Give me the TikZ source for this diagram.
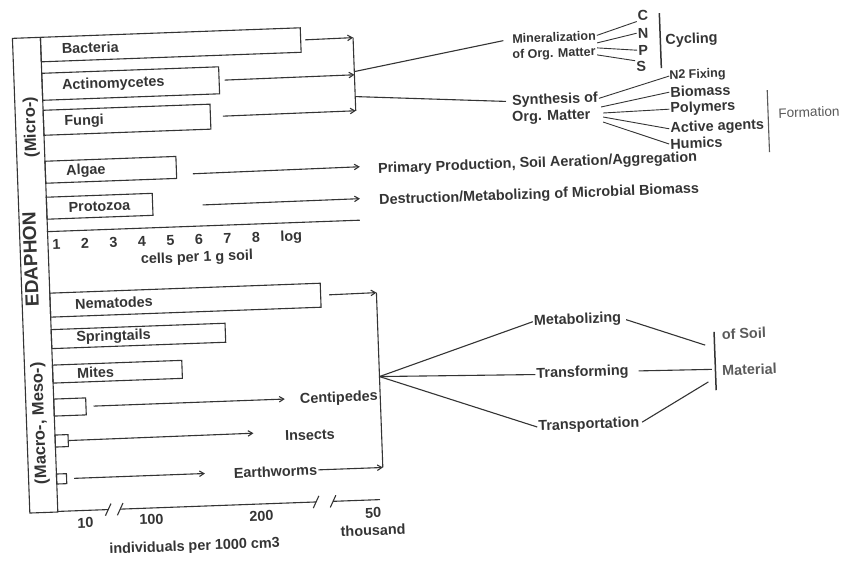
\documentclass[tikz,border=0pt]{standalone}
\usepackage{fontspec}
\setmainfont{Liberation Sans}
\usetikzlibrary{arrows.meta}
\definecolor{ink}{HTML}{343434}
\definecolor{inklight}{HTML}{5A5A5A}
\tikzset{
  every node/.style={text=ink},
  txt/.style={font=\bfseries\fontsize{14.4}{16}\selectfont, inner sep=1pt},
  small/.style={font=\bfseries\fontsize{12.5}{15}\selectfont, inner sep=0pt},
  bar/.style={draw=ink, line width=1.1pt, anchor=north west, inner xsep=0pt,
    inner ysep=0pt, align=left, font=\bfseries\fontsize{14.4}{16}\selectfont},
  box/.style={draw=ink, line width=1.1pt, anchor=north west, inner sep=0pt},
  conn/.style={draw=ink, line width=1.1pt},
  thick bar/.style={draw=ink, line width=1.5pt},
  arr/.style={conn, -{Straight Barb[length=4.5pt,width=5.5pt]}},
  side/.style={font=\bfseries\fontsize{16.5}{18}\selectfont, rotate=90, inner sep=0pt},
}
\begin{document}
\begin{tikzpicture}[x=1pt,y=-1pt]
\fill[white] (0,0) rectangle (843,561);
\useasboundingbox (0,0) rectangle (843,561);
\begin{scope}[rotate around={2.1:(421,280)}, transform shape]

% ---- EDAPHON side frame ----
\node[draw=ink, line width=1.1pt, anchor=north west, minimum width=28pt,
  minimum height=475pt, inner sep=0pt] (frame) at (21,23) {};
\node[side, font=\bfseries\fontsize{19}{20}\selectfont] (eda) at (31.5,245) {EDAPHON};
\node[side] (mic) at (37,113) {(Micro-)};
\node[side] (mac) at (35,409.3) {(Macro-, Meso-)};

% ---- micro-organisms (cells per 1 g soil) ----
\node[bar, text width=260pt, minimum height=24.5pt] (bac) at (49,23) {\hspace*{21pt}Bacteria};
\node[bar, text width=177pt, minimum height=27pt] (act) at (49,59) {\hspace*{20pt}Actinomycetes};
\node[bar, text width=167pt, minimum height=25pt] (fun) at (49,96) {\hspace*{21pt}Fungi};
\node[bar, text width=131pt, minimum height=22pt] (alg) at (49,147) {\hspace*{21pt}Algae};
\node[bar, text width=106pt, minimum height=22pt] (pro) at (49,183) {\hspace*{22pt}Protozoa};

\coordinate (ax0) at (49,218);
\coordinate (ax1) at (362,218);
\draw[conn] (ax0) -- (ax1);
\foreach \n [count=\i] in {1,...,8}
  \node[txt, inner sep=0pt] (num\n) at ({58+28.5*(\i-1)},231.5) {\n};
\node[txt, inner sep=0pt] (log) at (293,232.5) {log};
\node[txt, inner sep=0pt] (cells) at (198,250) {cells per 1 g soil};

% arrows into the bracket of the decomposers
\coordinate (b1) at (362,35.3);
\coordinate (b2) at (362,72.5);
\coordinate (b3) at (362,108.5);
\draw[arr, shorten <=4pt] (bac.east) -- (b1);
\draw[arr, shorten <=5pt] (act.east) -- (b2);
\draw[arr, shorten <=12pt] (fun.east) -- (b3);
\draw[conn] (b1) -- (b3);
\coordinate (bo1) at (362,69.3);
\coordinate (bo2) at (362,94.3);

% mineralization branch
\node[small, anchor=west] (min1) at (521,42.3) {Mineralization};
\node[small, anchor=west] (min2) at (520.5,59) {of Org. Matter};
\draw[conn, shorten >=9pt] (bo1) -- (min1.west);
\node[txt] (C) at (652.5,23.3) {C};
\node[txt] (N) at (652,41.3) {N};
\node[txt] (P) at (651.5,58.3) {P};
\node[txt] (S) at (649,75) {S};
\coordinate (mf2) at (605.8,49.5);
\coordinate (mf3) at (605.6,54.5);
\coordinate (mf4) at (605.3,61.5);
\draw[conn, line width=0.9pt, shorten <=1pt] (min1.east) -- (C.south west);
\draw[conn, line width=0.9pt] (mf2) -- (N.west);
\draw[conn, line width=0.9pt] (mf3) -- (P.west);
\draw[conn, line width=0.9pt] (mf4) -- (S.north west);
\coordinate (cy0) at (669,22);
\coordinate (cy1) at (669,77);
\draw[thick bar] (cy0) -- (cy1);
\node[txt, anchor=west] (cyc) at (673,50) {Cycling};

% synthesis branch
\node[txt, anchor=west] (syn1) at (517.5,105) {Synthesis of};
\node[txt, anchor=west] (syn2) at (517,121.8) {Org. Matter};
\draw[conn, shorten >=5pt] (bo2) -- (syn1.west);
\node[small, anchor=west] (n2f) at (676.5,85.3) {N2 Fixing};
\node[txt, anchor=west] (bio) at (676,101.4) {Biomass};
\node[txt, anchor=west] (pol) at (675.4,118.4) {Polymers};
\node[txt, anchor=west] (agt) at (674.7,138) {Active agents};
\node[txt, anchor=west] (hum) at (674,153.2) {Humics};
\coordinate (sf2) at (607.4,113.7);
\coordinate (sf3) at (609.2,119.8);
\coordinate (sf4) at (609,123.8);
\coordinate (sf5) at (608.8,128.8);
\draw[conn, line width=0.9pt] (syn1.east) -- (n2f.west);
\draw[conn, line width=0.9pt] (sf2) -- (bio.west);
\draw[conn, line width=0.9pt] (sf3) -- (pol.west);
\draw[conn, line width=0.9pt] (sf4) -- (agt.west);
\draw[conn, line width=0.9pt] (sf5) -- (hum.west);
\coordinate (fo0) at (774,103);
\coordinate (fo1) at (774,165);
\draw[conn, draw=inklight] (fo0) -- (fo1);
\node[font=\fontsize{13.6}{16}\selectfont, text=inklight, anchor=west, inner sep=1pt]
  (form) at (783,126.4) {Formation};

% algae and protozoa
\node[txt, anchor=west] (prim) at (381,168) {Primary Production, Soil Aeration/Aggregation};
\node[txt, anchor=west] (dest) at (381,199.5) {Destruction/Metabolizing of Microbial Biomass};
\coordinate (a0) at (197,165.5);
\coordinate (a1) at (364,164.6);
\coordinate (p0) at (205.5,197);
\coordinate (p1) at (363,196.5);
\draw[arr] (a0) -- (a1);
\draw[arr] (p0) -- (p1);

% ---- soil fauna (individuals per 1000 cm3) ----
\node[bar, text width=270.6pt, minimum height=24pt] (nem) at (49,279) {\hspace*{25pt}Nematodes};
\node[bar, text width=174pt, minimum height=19pt] (spr) at (49,315.5) {\hspace*{25pt}Springtails};
\node[bar, text width=129.4pt, minimum height=18pt] (mit) at (49,351) {\hspace*{24.5pt}Mites};
\node[box, minimum width=32pt, minimum height=17pt] (cen) at (49,385) {};
\node[box, minimum width=13pt, minimum height=12pt] (ins) at (49,421) {};
\node[box, minimum width=10pt, minimum height=10pt] (ear) at (49,460) {};

\node[txt] (cenT) at (334.6,395.3) {Centipedes};
\node[txt] (insT) at (304.3,431) {Insects};
\node[txt] (earT) at (268.6,466) {Earthworms};

\coordinate (k1) at (376,291);
\coordinate (k2) at (376,466);
\coordinate (kc) at (376,375);
\coordinate (ce1) at (280.5,394);
\coordinate (in1) at (248,427);
\coordinate (ea1) at (198,465.5);
\draw[arr, shorten <=8pt] (nem.east) -- (k1);
\draw[arr, shorten <=7pt] (cen.east) -- (ce1);
\draw[arr] (ins.east) -- (in1);
\draw[arr, shorten <=7pt] (ear.east) -- (ea1);
\draw[arr] (earT.east) -- (k2);
\draw[conn] (k1) -- (k2);

% activities on soil material
\node[txt] (metT) at (576,325.8) {Metabolizing};
\node[txt] (trfT) at (579,378.7) {Transforming};
\node[txt] (trpT) at (583.4,431.2) {Transportation};
\draw[conn] (kc) -- (metT.west);
\draw[conn] (kc) -- (trfT.west);
\draw[conn] (kc) -- (trpT.west);
\coordinate (r1) at (702.6,355.5);
\coordinate (r2) at (708.4,380);
\coordinate (r3) at (704.5,392.4);
\draw[conn, shorten <=4pt] (metT.east) -- (r1);
\draw[conn, shorten <=9pt] (trfT.east) -- (r2);
\draw[conn, shorten <=2pt] (trpT.east) -- (r3);
\coordinate (sm0) at (712,342.6);
\coordinate (sm1) at (712,401);
\draw[thick bar] (sm0) -- (sm1);
\node[txt, text=inklight, anchor=west] (soil) at (718.5,345.3) {of Soil};
\node[txt, text=inklight, anchor=west] (mat) at (717.5,381.5) {Material};

% ---- broken abundance axis ----
\coordinate (x0) at (49,498);
\coordinate (x1) at (100,498);
\coordinate (x2) at (112,498);
\coordinate (x3) at (308,498);
\coordinate (x4) at (325,498);
\coordinate (x5) at (372,498);
\draw[conn] (x0) -- (x1);
\draw[conn] (x2) -- (x3);
\draw[conn] (x4) -- (x5);
\draw[conn] (97,504) -- (103,492);
\draw[conn] (109,504) -- (115,492);
\draw[conn] (305,504) -- (311,492);
\draw[conn] (322,504) -- (328,492);
\node[txt] (l10) at (76.7,510.3) {10};
\node[txt] (l100) at (142.9,509.4) {100};
\node[txt] (l200) at (253,510.1) {200};
\node[txt] (l50) at (364.7,511) {50};
\node[txt] (lth) at (364,528.3) {thousand};
\node[txt] (indiv) at (185,538.4) {individuals per 1000 cm3};

\end{scope}
\end{tikzpicture}
\end{document}
